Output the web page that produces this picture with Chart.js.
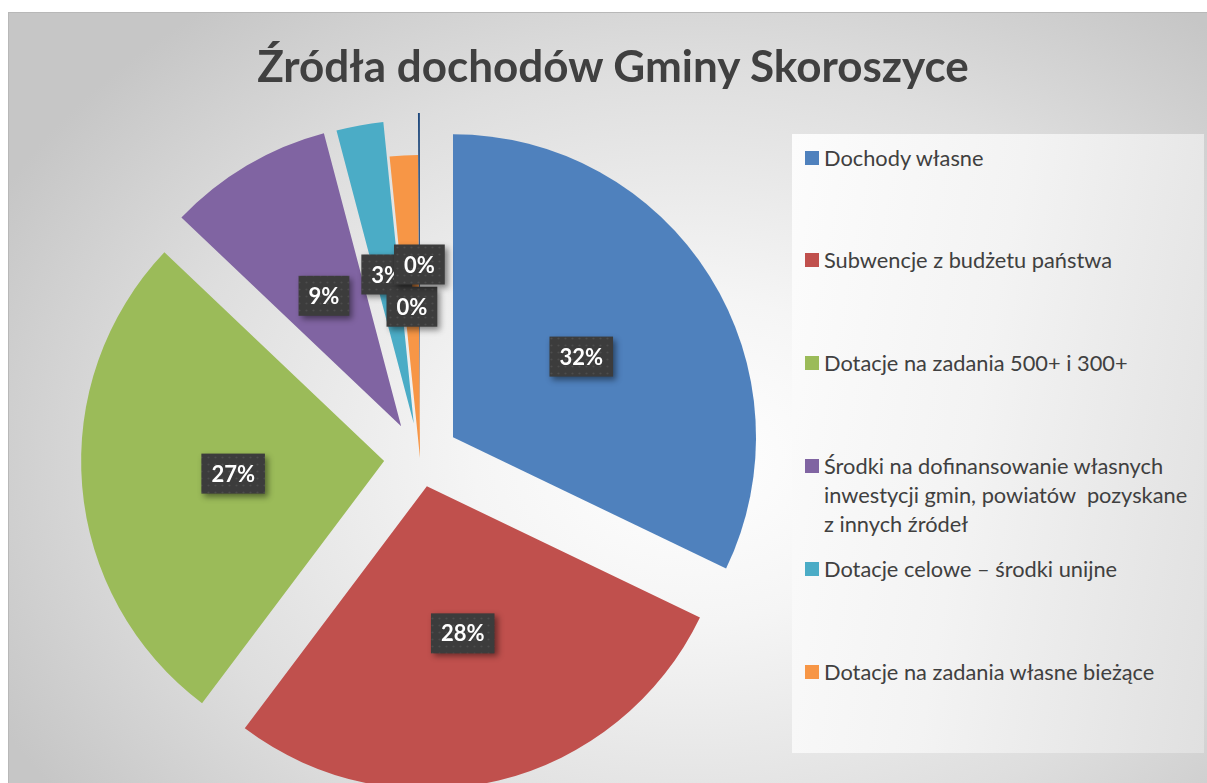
<!DOCTYPE html>
<html lang="pl">
<head>
<meta charset="utf-8">
<title>Źródła dochodów Gminy Skoroszyce</title>
<script src="https://cdn.jsdelivr.net/npm/chart.js@4.4.0/dist/chart.umd.min.js"></script>
<style>
    html, body { margin: 0; padding: 0; background: #fff; }
    body { width: 1207px; height: 783px; position: relative; overflow: hidden; font-family: Lato, 'Open Sans', sans-serif; }
    #frame {
        position: absolute; left: 8px; top: 12px; width: 1199px; height: 771px; overflow: hidden;
        box-sizing: border-box; border-top: 1px solid #b8b8b8; border-left: 1px solid #b8b8b8;
        background: radial-gradient(ellipse 65% 75% at 57% 58%, #ffffff 0%, #f5f5f5 28%, #dedede 68%, #c6c6c6 100%);
    }
    #pie { position: absolute; left: 0; top: 0; }
    #title {
        position: absolute; left: 9px; top: 26px; width: 1190px; text-align: center;
        font: bold 44px/52px Lato, sans-serif; color: #404040; white-space: nowrap;
    }
    #legendBox {
        position: absolute; left: 783px; top: 121px; width: 412px; height: 619px;
        background: linear-gradient(100deg, #fcfcfc 0%, #f3f3f3 45%, #e0e0e0 100%);
    }
    .item { position: absolute; left: 13px; display: flex; align-items: flex-start; }
    .mark { width: 14px; height: 14px; margin-top: 8px; margin-right: 5px; flex: none; }
    .txt { font: 21.8px/29px Lato, sans-serif; color: #404040; white-space: nowrap; }
</style>
</head>
<body>
<div id="frame">
    <canvas id="pie" width="822" height="890"></canvas>
    <div id="title">Źródła dochodów Gminy Skoroszyce</div>
    <div id="legendBox"></div>
</div>
<script>
// Źródła dochodów - udział procentowy
const categories = [
    'Dochody własne',
    'Subwencje z budżetu państwa',
    'Dotacje na zadania 500+ i 300+',
    'Środki na dofinansowanie własnych\ninwestycji gmin, powiatów\u00a0 pozyskane\nz innych źródeł',
    'Dotacje celowe – środki unijne',
    'Dotacje na zadania własne bieżące',
    ''
];
const shares = [32.1, 28.1, 26.8, 8.8, 2.5, 1.5, 0.1];
const labelTexts = ['32%', '28%', '27%', '9%', '3%', '0%', '0%'];

const colors = ['#4F81BD', '#C0504D', '#9BBB59', '#8064A2', '#4BACC6', '#F79646', '#1F497D'];
const explode = [39, 29, 36, 37, 35, 0, 42];

// legend
const legendBox = document.getElementById('legendBox');
categories.forEach((name, i) => {
    if (!name) return;
    const item = document.createElement('div');
    item.className = 'item';
    item.style.top = (8.5 + i * 102.8) + 'px';
    const mark = document.createElement('div');
    mark.className = 'mark';
    mark.style.background = colors[i];
    const txt = document.createElement('div');
    txt.className = 'txt';
    txt.innerHTML = name.split('\n').join('<br>');
    item.appendChild(mark);
    item.appendChild(txt);
    legendBox.appendChild(item);
});

// dotted pattern for the label boxes
const tile = document.createElement('canvas');
tile.width = 7; tile.height = 7;
const tctx = tile.getContext('2d');
tctx.fillStyle = 'rgba(255,255,255,0.09)';
tctx.beginPath();
tctx.arc(3.5, 3.5, 1.1, 0, Math.PI * 2);
tctx.fill();

// each slice pulled out from the centre by its own distance
const explodePlugin = {
    id: 'explode',
    beforeDatasetDraw(chart, args) {
        const ctx = chart.ctx;
        args.meta.data.forEach((arc, i) => {
            const mid = (arc.startAngle + arc.endAngle) / 2;
            ctx.save();
            ctx.translate(Math.cos(mid) * explode[i], Math.sin(mid) * explode[i]);
            arc.draw(ctx);
            ctx.restore();
        });
        return false;
    }
};

const labelBoxes = {
    id: 'labelBoxes',
    afterDatasetsDraw(chart) {
        const ctx = chart.ctx;
        const meta = chart.getDatasetMeta(0);
        const dots = ctx.createPattern(tile, 'repeat');
        ctx.save();
        ctx.font = 'bold 22px Lato';
        ctx.textAlign = 'center';
        ctx.textBaseline = 'middle';
        meta.data.forEach((arc, i) => {
            const mid = (arc.startAngle + arc.endAngle) / 2;
            const dist = arc.outerRadius / 2 + explode[i];
            const x = arc.x + Math.cos(mid) * dist;
            const y = arc.y + Math.sin(mid) * dist;
            const w = ctx.measureText(labelTexts[i]).width + 20;
            const h = 40;
            ctx.shadowColor = 'rgba(0,0,0,0.45)';
            ctx.shadowBlur = 6;
            ctx.shadowOffsetX = 3;
            ctx.shadowOffsetY = 3;
            ctx.fillStyle = '#3c3c3c';
            ctx.fillRect(x - w / 2, y - h / 2, w, h);
            ctx.shadowColor = 'transparent';
            ctx.fillStyle = dots;
            ctx.fillRect(x - w / 2, y - h / 2, w, h);
            ctx.fillStyle = '#ffffff';
            ctx.fillText(labelTexts[i], x, y + 1);
        });
        ctx.restore();
    }
};

new Chart(document.getElementById('pie').getContext('2d'), {
    type: 'pie',
    data: {
        labels: categories,
        datasets: [{
            data: shares,
            backgroundColor: colors,
            borderWidth: 0,
            radius: 303
        }]
    },
    options: {
        responsive: false,
        animation: false,
        layout: { padding: 0 },
        plugins: {
            legend: { display: false },
            title: { display: false },
            tooltip: { enabled: false }
        }
    },
    plugins: [explodePlugin, labelBoxes]
});
</script>
</body>
</html>
